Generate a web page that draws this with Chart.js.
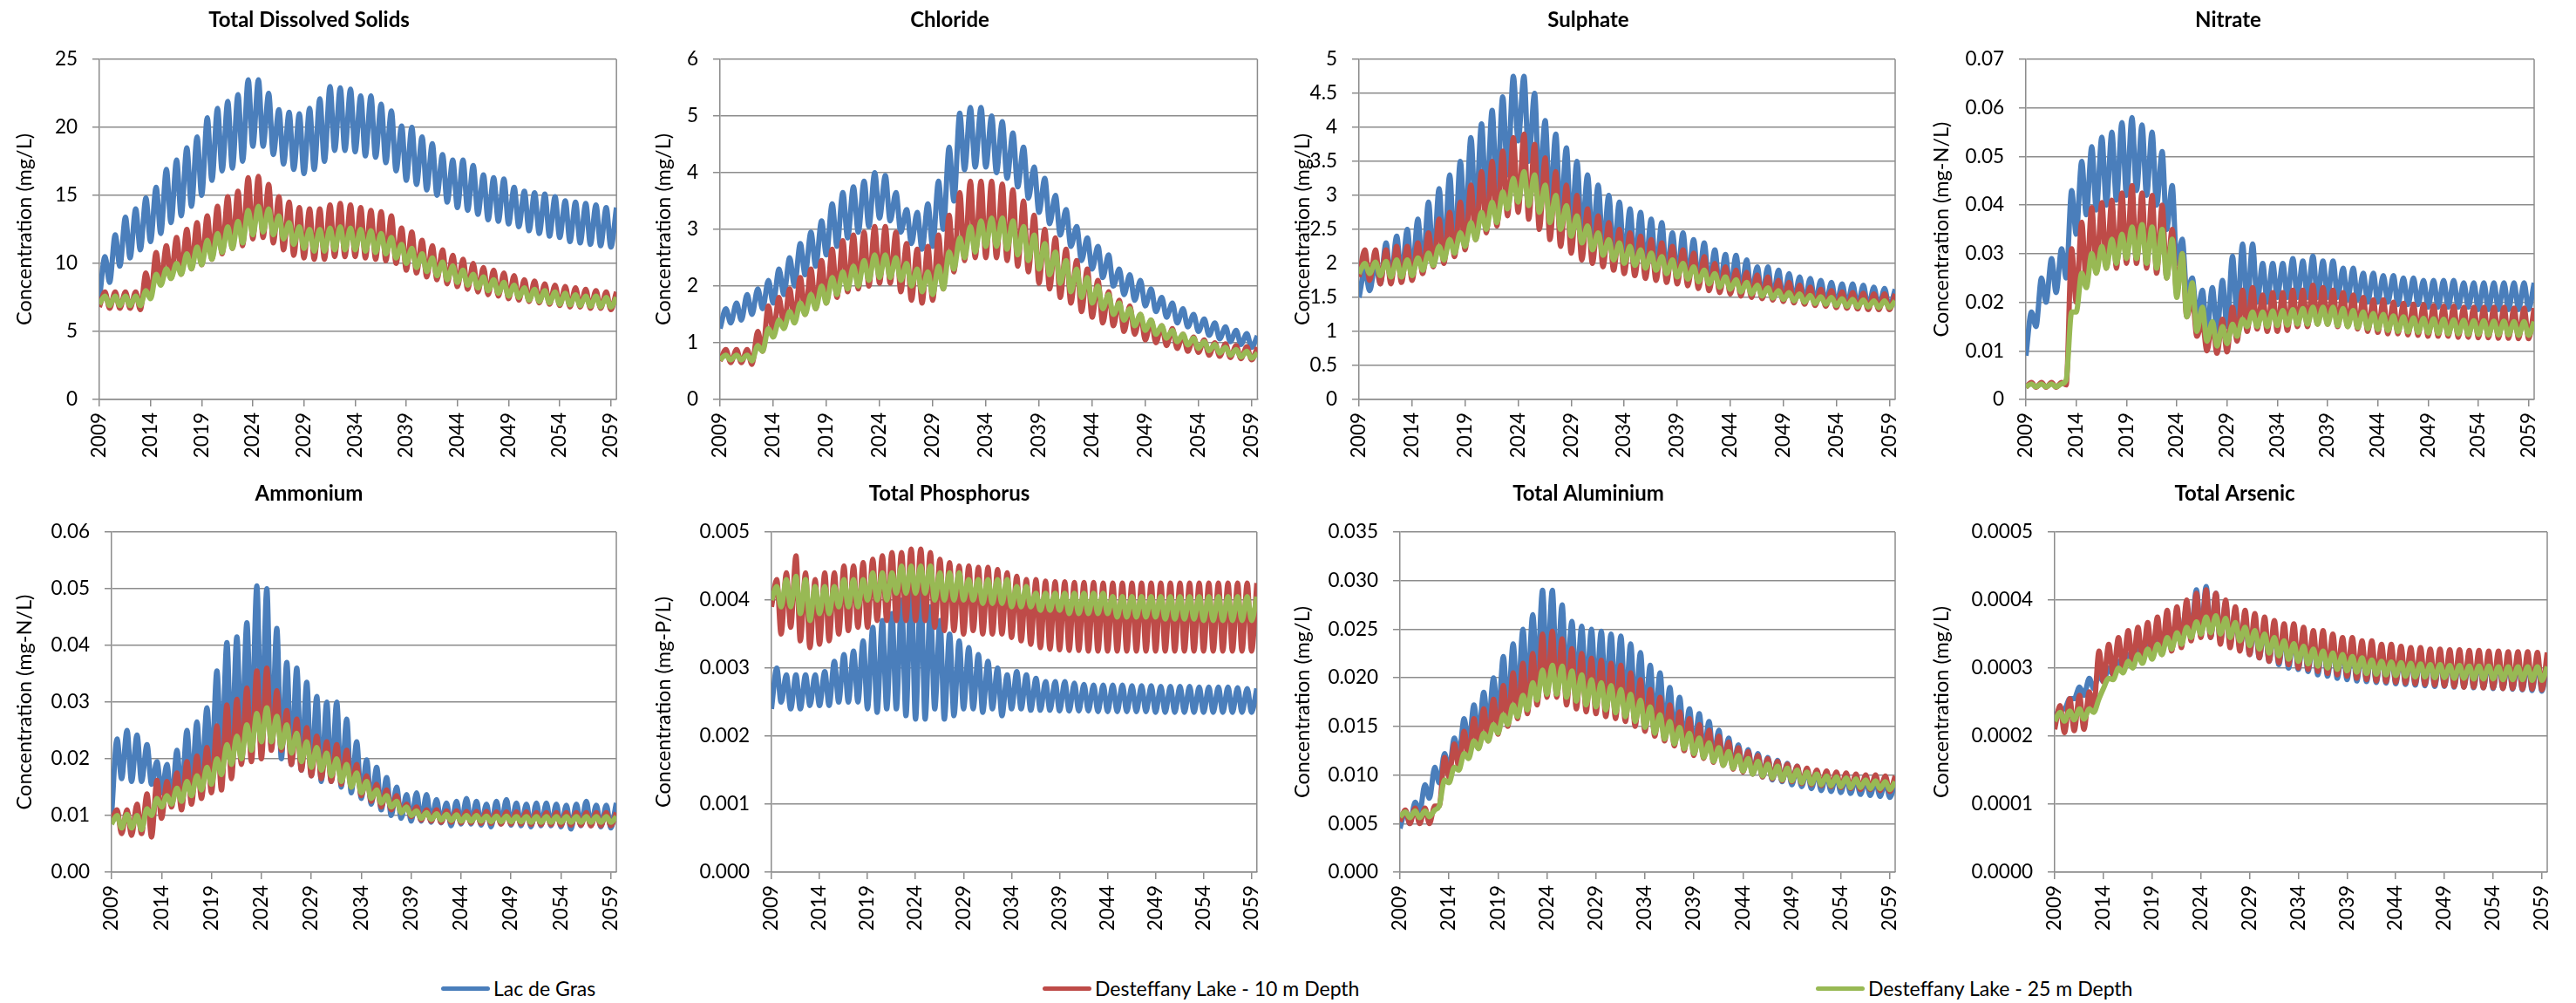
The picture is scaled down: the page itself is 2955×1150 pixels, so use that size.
<!DOCTYPE html>
<html>
<head>
<meta charset="utf-8">
<script src="https://cdn.jsdelivr.net/npm/chart.js@4.4.0/dist/chart.umd.min.js"></script>
<style>
  body { margin: 0; background: #fff; width: 2955px; height: 1150px; position: relative; overflow: hidden; font-family: Lato, sans-serif; }
  canvas { position: absolute; }
  .key { position: absolute; top: 1118px; height: 30px; display: flex; align-items: center; font-size: 23px; color: #000; white-space: nowrap; }
  .key span { display: inline-block; width: 56px; height: 5px; border-radius: 3px; margin-right: 4px; }
</style>
</head>
<body>

<div class="key" style="left:506px"><span style="background:#4A7EBB"></span>Lac de Gras</div>
<div class="key" style="left:1196px"><span style="background:#BE4B48"></span>Desteffany Lake - 10 m Depth</div>
<div class="key" style="left:2083px"><span style="background:#98B954"></span>Desteffany Lake - 25 m Depth</div>

<script>
// --- data: one trough (start of year) and one peak (mid-year) per year ---
const years = [2009,2010,2011,2012,2013,2014,2015,2016,2017,2018,2019,2020,2021,2022,2023,2024,2025,2026,2027,2028,2029,2030,2031,2032,2033,2034,2035,2036,2037,2038,2039,2040,2041,2042,2043,2044,2045,2046,2047,2048,2049,2050,2051,2052,2053,2054,2055,2056,2057,2058,2059];
const xTickYears = [2009, 2014, 2019, 2024, 2029, 2034, 2039, 2044, 2049, 2054, 2059];
const seriesNames = ["Lac de Gras", "Desteffany Lake - 10 m Depth", "Desteffany Lake - 25 m Depth"];

// Total Dissolved Solids
const tdsLacHi = [10.5,12.1,13.4,14.0,14.8,15.6,16.9,17.6,18.5,19.3,20.7,21.4,21.9,22.4,23.5,23.5,22.5,21.3,21.1,21.0,21.4,22.1,23.0,22.9,22.8,22.3,22.3,21.7,21.2,20.1,20.0,19.3,18.8,18.0,17.6,17.6,17.2,16.5,16.3,16.2,15.6,15.3,15.2,15.1,14.9,14.6,14.5,14.4,14.3,14.1,14.1];
const tdsLacLo = [7.3,8.6,9.8,10.4,11.0,11.6,12.2,13.0,13.5,14.2,15.0,16.1,16.8,17.0,17.5,18.6,18.6,18.0,17.3,16.9,16.6,16.9,17.5,18.3,18.3,18.2,17.9,17.8,17.4,16.8,16.1,15.8,15.4,15.0,14.5,14.1,13.9,13.6,13.2,13.1,12.9,12.7,12.4,12.2,12.0,11.9,11.6,11.5,11.4,11.3,11.2];
const tds10Hi = [7.9,7.9,7.9,7.9,9.3,10.8,11.3,11.9,12.5,13.0,13.5,14.2,14.9,15.3,16.3,16.4,15.8,14.9,14.5,14.1,14.0,14.0,14.3,14.4,14.3,14.1,13.9,13.8,13.5,12.6,12.3,11.7,11.3,11.0,10.6,10.3,10.0,9.7,9.5,9.3,9.1,8.8,8.7,8.5,8.4,8.3,8.2,8.1,8.0,7.9,7.9];
const tds10Lo = [6.8,6.7,6.7,6.7,6.6,7.5,8.5,8.9,9.2,9.6,9.9,10.3,10.7,11.1,11.3,11.8,11.9,11.5,11.0,10.6,10.4,10.3,10.3,10.5,10.5,10.5,10.4,10.3,10.2,10.0,9.5,9.3,9.0,8.8,8.5,8.3,8.1,7.9,7.7,7.6,7.4,7.3,7.2,7.1,7.0,6.9,6.8,6.8,6.7,6.7,6.6];
const tds25Hi = [7.6,7.6,7.6,7.6,8.0,9.2,9.6,10.0,10.7,11.2,11.7,12.2,12.7,13.1,13.9,14.2,14.0,13.5,13.0,12.7,12.5,12.5,12.6,12.7,12.6,12.5,12.4,12.2,11.9,11.4,11.1,10.7,10.4,10.1,9.8,9.5,9.2,9.0,8.8,8.6,8.4,8.2,8.1,8.0,7.9,7.8,7.7,7.6,7.6,7.5,7.5];
const tds25Lo = [7.0,6.9,6.9,6.9,6.9,7.4,8.4,8.9,9.2,9.6,9.9,10.3,10.8,11.1,11.5,12.1,12.3,12.1,11.8,11.4,11.1,10.9,10.9,11.0,11.0,11.0,10.9,10.8,10.7,10.4,10.0,9.7,9.4,9.1,8.8,8.6,8.4,8.2,8.0,7.8,7.6,7.5,7.3,7.2,7.1,7.0,6.95,6.9,6.85,6.8,6.8];

// Chloride
const clLacHi = [1.6,1.7,1.85,1.95,2.1,2.3,2.5,2.75,2.95,3.15,3.45,3.65,3.75,3.85,4.0,3.95,3.65,3.35,3.3,3.45,3.85,4.45,5.05,5.15,5.15,5.0,4.9,4.7,4.45,4.1,3.9,3.6,3.35,3.05,2.85,2.7,2.55,2.3,2.2,2.1,1.95,1.8,1.7,1.6,1.5,1.42,1.35,1.28,1.22,1.16,1.12];
const clLacLo = [1.25,1.35,1.4,1.5,1.6,1.7,1.85,2.0,2.2,2.35,2.55,2.7,2.85,2.95,3.05,3.2,3.15,2.95,2.75,2.65,2.7,3.0,3.5,4.05,4.1,4.1,4.0,3.9,3.75,3.55,3.3,3.1,2.9,2.7,2.45,2.3,2.15,2.0,1.85,1.75,1.65,1.55,1.45,1.35,1.28,1.2,1.13,1.07,1.02,0.97,0.92];
const cl10Hi = [0.88,0.88,0.88,1.2,1.65,1.8,1.95,2.15,2.3,2.45,2.65,2.8,2.9,2.95,3.05,3.05,2.95,2.75,2.65,2.7,2.9,3.25,3.65,3.85,3.85,3.85,3.8,3.7,3.5,3.25,3.0,2.85,2.65,2.45,2.3,2.1,1.9,1.75,1.65,1.5,1.4,1.3,1.25,1.15,1.1,1.05,1.0,0.98,0.95,0.93,0.92];
const cl10Lo = [0.68,0.65,0.65,0.62,0.85,1.2,1.3,1.4,1.5,1.6,1.7,1.8,1.9,1.95,2.0,2.05,2.05,1.9,1.75,1.7,1.75,1.95,2.25,2.45,2.5,2.5,2.5,2.45,2.35,2.25,2.05,1.95,1.8,1.7,1.55,1.45,1.35,1.3,1.2,1.15,1.05,1.0,0.95,0.9,0.85,0.83,0.78,0.76,0.74,0.72,0.7];
const cl25Hi = [0.78,0.78,0.78,0.95,1.25,1.4,1.55,1.7,1.85,2.0,2.15,2.25,2.35,2.45,2.55,2.55,2.5,2.4,2.3,2.25,2.35,2.6,2.85,3.05,3.15,3.2,3.2,3.15,3.05,2.9,2.75,2.6,2.45,2.3,2.15,2.0,1.85,1.7,1.6,1.5,1.4,1.3,1.22,1.15,1.08,1.02,0.97,0.92,0.88,0.85,0.82];
const cl25Lo = [0.7,0.7,0.7,0.68,0.85,1.1,1.25,1.35,1.5,1.6,1.7,1.85,1.95,2.0,2.1,2.15,2.15,2.1,2.0,1.9,1.85,1.95,2.3,2.5,2.6,2.7,2.7,2.65,2.55,2.45,2.3,2.2,2.05,1.9,1.8,1.7,1.6,1.5,1.4,1.3,1.22,1.15,1.08,1.02,0.96,0.9,0.86,0.82,0.78,0.75,0.73];

// Sulphate
const so4LacHi = [1.9,2.0,2.3,2.4,2.5,2.65,2.9,3.1,3.3,3.5,3.85,4.05,4.25,4.45,4.75,4.75,4.5,4.1,3.9,3.7,3.5,3.3,3.15,3.0,2.9,2.8,2.75,2.65,2.6,2.45,2.45,2.35,2.3,2.2,2.13,2.12,2.05,1.95,1.95,1.9,1.85,1.8,1.78,1.75,1.72,1.7,1.7,1.68,1.65,1.63,1.62];
const so4LacLo = [1.5,1.6,1.7,1.75,1.8,1.85,1.9,2.0,2.1,2.15,2.5,2.7,2.85,3.0,3.3,3.8,3.5,3.1,2.85,2.65,2.5,2.4,2.3,2.2,2.1,2.03,1.97,1.92,1.87,1.82,1.78,1.75,1.7,1.67,1.63,1.6,1.57,1.55,1.5,1.48,1.46,1.45,1.43,1.42,1.4,1.38,1.37,1.36,1.35,1.35,1.35];
const so410Hi = [2.2,2.2,2.2,2.25,2.25,2.3,2.45,2.65,2.75,2.9,3.15,3.35,3.5,3.65,3.85,3.9,3.75,3.55,3.35,3.15,3.0,2.8,2.7,2.6,2.5,2.45,2.4,2.35,2.3,2.25,2.2,2.15,2.1,2.0,1.95,1.9,1.87,1.83,1.8,1.75,1.72,1.68,1.65,1.62,1.6,1.58,1.57,1.56,1.55,1.55,1.55];
const so410Lo = [1.8,1.75,1.7,1.7,1.72,1.75,1.85,1.95,2.0,2.1,2.2,2.35,2.45,2.55,2.7,2.75,2.65,2.5,2.35,2.25,2.15,2.05,2.0,1.95,1.9,1.85,1.82,1.78,1.75,1.72,1.7,1.67,1.63,1.6,1.57,1.55,1.52,1.5,1.48,1.46,1.44,1.42,1.4,1.38,1.37,1.35,1.34,1.33,1.32,1.32,1.32];
const so425Hi = [2.0,2.02,2.03,2.05,2.05,2.08,2.15,2.25,2.35,2.45,2.6,2.75,2.9,3.05,3.25,3.35,3.3,3.15,3.0,2.85,2.7,2.55,2.45,2.35,2.3,2.25,2.2,2.15,2.1,2.05,2.0,1.95,1.9,1.85,1.8,1.76,1.72,1.68,1.64,1.6,1.57,1.55,1.53,1.51,1.5,1.48,1.47,1.46,1.45,1.45,1.45];
const so425Lo = [1.85,1.85,1.82,1.8,1.8,1.82,1.9,1.97,2.05,2.15,2.25,2.35,2.5,2.6,2.8,2.9,2.85,2.75,2.6,2.5,2.4,2.3,2.2,2.12,2.05,2.0,1.97,1.93,1.9,1.85,1.8,1.77,1.73,1.7,1.65,1.62,1.58,1.55,1.52,1.49,1.47,1.45,1.43,1.41,1.4,1.38,1.37,1.36,1.36,1.35,1.35];

// Nitrate
const no3LacHi = [0.018,0.025,0.029,0.031,0.043,0.049,0.052,0.054,0.055,0.057,0.058,0.0565,0.055,0.051,0.044,0.033,0.025,0.0225,0.023,0.0245,0.0295,0.032,0.032,0.028,0.028,0.028,0.029,0.0285,0.0295,0.0285,0.0285,0.027,0.027,0.026,0.026,0.0255,0.0255,0.025,0.025,0.0245,0.0245,0.0245,0.0245,0.024,0.024,0.024,0.024,0.024,0.024,0.024,0.024];
const no3LacLo = [0.009,0.015,0.020,0.022,0.025,0.034,0.038,0.039,0.040,0.041,0.042,0.043,0.042,0.040,0.035,0.028,0.022,0.017,0.014,0.014,0.015,0.017,0.019,0.020,0.020,0.021,0.021,0.021,0.021,0.021,0.021,0.021,0.0205,0.0205,0.020,0.020,0.020,0.0195,0.0195,0.0195,0.019,0.019,0.019,0.019,0.019,0.0185,0.0185,0.0185,0.0185,0.0185,0.0185];
const no310Hi = [0.0035,0.0035,0.0035,0.0035,0.031,0.0365,0.0395,0.0405,0.041,0.0425,0.044,0.0425,0.042,0.040,0.035,0.030,0.021,0.016,0.0158,0.0165,0.019,0.0225,0.023,0.0215,0.022,0.022,0.0225,0.0225,0.0235,0.023,0.0225,0.022,0.0215,0.021,0.0205,0.0205,0.020,0.0198,0.0196,0.0195,0.0193,0.0192,0.0192,0.019,0.019,0.019,0.019,0.019,0.0188,0.0188,0.0188];
const no310Lo = [0.0025,0.0025,0.0025,0.0025,0.003,0.020,0.024,0.026,0.027,0.027,0.028,0.028,0.027,0.026,0.025,0.022,0.017,0.013,0.010,0.0095,0.0098,0.012,0.014,0.0145,0.014,0.014,0.0142,0.015,0.015,0.0155,0.0155,0.015,0.015,0.0145,0.014,0.0138,0.0135,0.0135,0.0133,0.0132,0.013,0.013,0.013,0.0128,0.0128,0.0127,0.0127,0.0126,0.0126,0.0125,0.0125];
const no325Hi = [0.0032,0.0032,0.0032,0.0032,0.018,0.026,0.030,0.0315,0.033,0.034,0.0355,0.036,0.0355,0.035,0.033,0.030,0.024,0.019,0.016,0.015,0.0155,0.0165,0.018,0.018,0.0182,0.0183,0.0185,0.0187,0.019,0.019,0.019,0.0187,0.0183,0.018,0.0177,0.0175,0.0172,0.017,0.0168,0.0167,0.0166,0.0165,0.0164,0.0163,0.0162,0.0162,0.0161,0.0161,0.016,0.016,0.016];
const no325Lo = [0.0026,0.0026,0.0026,0.0026,0.004,0.018,0.023,0.026,0.027,0.028,0.029,0.029,0.028,0.027,0.025,0.021,0.017,0.014,0.012,0.011,0.0115,0.013,0.015,0.015,0.015,0.0152,0.0153,0.0155,0.0155,0.0155,0.0155,0.0152,0.015,0.0148,0.0146,0.0144,0.0142,0.014,0.0139,0.0138,0.0137,0.0136,0.0135,0.0135,0.0134,0.0134,0.0133,0.0133,0.0133,0.0132,0.0132];

// Ammonium
const nh4LacHi = [0.0235,0.025,0.0242,0.0225,0.0195,0.019,0.0215,0.025,0.0265,0.029,0.0355,0.0405,0.0415,0.044,0.0505,0.050,0.043,0.037,0.036,0.0335,0.031,0.030,0.030,0.027,0.023,0.0198,0.0185,0.0167,0.015,0.0137,0.014,0.0137,0.0128,0.0122,0.0125,0.013,0.0125,0.012,0.0125,0.0128,0.0122,0.012,0.0122,0.0122,0.012,0.0118,0.012,0.0125,0.0118,0.0118,0.0122];
const nh4LacLo = [0.010,0.0165,0.016,0.016,0.0155,0.014,0.012,0.0135,0.015,0.016,0.018,0.020,0.021,0.022,0.024,0.024,0.022,0.020,0.019,0.018,0.017,0.016,0.016,0.015,0.014,0.013,0.012,0.011,0.010,0.0095,0.009,0.009,0.0088,0.0087,0.0082,0.0085,0.0085,0.0083,0.008,0.0085,0.0083,0.0082,0.008,0.0082,0.0082,0.008,0.0076,0.0082,0.0082,0.008,0.0078];
const nh410Hi = [0.011,0.011,0.012,0.0138,0.0162,0.016,0.0175,0.0195,0.0205,0.022,0.0258,0.0295,0.0305,0.0325,0.0355,0.036,0.032,0.0285,0.027,0.0255,0.024,0.023,0.0225,0.0215,0.019,0.017,0.0155,0.0145,0.0135,0.012,0.0115,0.011,0.011,0.0108,0.0108,0.0107,0.0107,0.0107,0.0106,0.0106,0.0106,0.0106,0.0105,0.0105,0.0105,0.0105,0.0105,0.0105,0.0105,0.0105,0.0105];
const nh410Lo = [0.009,0.0068,0.0065,0.0068,0.0062,0.0095,0.0115,0.011,0.012,0.013,0.014,0.0145,0.0165,0.019,0.0195,0.020,0.0215,0.0215,0.019,0.018,0.017,0.0165,0.016,0.0155,0.015,0.0135,0.0125,0.0115,0.011,0.0105,0.0098,0.0092,0.009,0.0088,0.0088,0.0087,0.0087,0.0086,0.0086,0.0085,0.0085,0.0085,0.0084,0.0084,0.0084,0.0083,0.0083,0.0083,0.0082,0.0082,0.0082];
const nh425Hi = [0.0100,0.0102,0.0100,0.0112,0.0130,0.0135,0.0148,0.0160,0.0170,0.0185,0.020,0.0225,0.024,0.026,0.028,0.029,0.0275,0.026,0.0245,0.023,0.022,0.021,0.020,0.019,0.0175,0.016,0.0145,0.0135,0.0125,0.0115,0.0108,0.0105,0.0103,0.0102,0.0101,0.0100,0.0100,0.0099,0.0099,0.0099,0.0098,0.0098,0.0098,0.0098,0.0098,0.0098,0.0098,0.0098,0.0098,0.0098,0.0098];
const nh425Lo = [0.0085,0.0078,0.0078,0.0075,0.0100,0.0115,0.012,0.0125,0.0135,0.0145,0.0155,0.0172,0.019,0.020,0.0215,0.023,0.023,0.022,0.021,0.0195,0.0185,0.018,0.017,0.016,0.015,0.014,0.013,0.0122,0.0115,0.0105,0.010,0.0095,0.0093,0.0092,0.0091,0.009,0.009,0.009,0.0089,0.0089,0.0089,0.0089,0.0088,0.0088,0.0088,0.0088,0.0088,0.0088,0.0088,0.0088,0.0088];

// Total Phosphorus
const tpLacHi = [0.0030,0.0029,0.0029,0.0029,0.0029,0.00295,0.0031,0.0032,0.00325,0.0034,0.0036,0.0037,0.0038,0.0040,0.0042,0.0042,0.0039,0.0037,0.0035,0.0034,0.0033,0.0032,0.0031,0.0030,0.0029,0.00295,0.0029,0.00285,0.0028,0.0028,0.0028,0.00278,0.00276,0.00275,0.00275,0.00275,0.00275,0.00274,0.00274,0.00274,0.00273,0.00273,0.00273,0.00273,0.00272,0.00272,0.00272,0.00272,0.00271,0.0027,0.0027];
const tpLacLo = [0.0024,0.0025,0.0024,0.0024,0.00245,0.00245,0.00245,0.0025,0.0025,0.0025,0.0024,0.00235,0.0024,0.0024,0.0023,0.00225,0.00225,0.0024,0.00225,0.0023,0.0024,0.0024,0.00235,0.0024,0.0023,0.0024,0.0024,0.00238,0.00238,0.00238,0.00237,0.00237,0.00237,0.00237,0.00236,0.00236,0.00236,0.00236,0.00236,0.00236,0.00235,0.00235,0.00235,0.00235,0.00235,0.00235,0.00235,0.00235,0.00235,0.00235,0.00235];
const tp10Hi = [0.0043,0.0044,0.00465,0.0044,0.0043,0.0044,0.0044,0.0045,0.0045,0.00455,0.0046,0.00465,0.0047,0.0047,0.00475,0.00475,0.0047,0.0046,0.00455,0.0045,0.0045,0.00448,0.00448,0.00445,0.0044,0.00435,0.0043,0.0043,0.00428,0.00427,0.00427,0.00426,0.00426,0.00426,0.00425,0.00425,0.00425,0.00425,0.00425,0.00425,0.00425,0.00425,0.00425,0.00425,0.00425,0.00425,0.00425,0.00425,0.00425,0.00425,0.00425];
const tp10Lo = [0.0039,0.0035,0.0036,0.0034,0.0033,0.00335,0.0034,0.0035,0.00355,0.0036,0.0036,0.0037,0.0037,0.0037,0.0037,0.0037,0.0037,0.0036,0.00355,0.00355,0.0035,0.00355,0.0035,0.0035,0.0035,0.00345,0.0034,0.00335,0.0033,0.00328,0.00327,0.00326,0.00326,0.00325,0.00325,0.00325,0.00325,0.00325,0.00325,0.00325,0.00325,0.00325,0.00325,0.00325,0.00325,0.00325,0.00325,0.00325,0.00325,0.00325,0.00325];
const tp25Hi = [0.0042,0.0043,0.00435,0.0043,0.0042,0.0042,0.0042,0.0043,0.0043,0.0043,0.0044,0.0044,0.0044,0.0045,0.0045,0.0045,0.0045,0.0044,0.0044,0.0044,0.0043,0.0043,0.0043,0.0043,0.0043,0.0042,0.0042,0.0041,0.0041,0.0041,0.0041,0.0041,0.0041,0.0041,0.0041,0.00405,0.00405,0.00405,0.00405,0.00405,0.00405,0.00405,0.00405,0.00405,0.00405,0.00405,0.00405,0.00405,0.00405,0.00405,0.00405];
const tp25Lo = [0.0040,0.0039,0.0039,0.0038,0.0037,0.0038,0.0038,0.0039,0.0039,0.0039,0.0040,0.0040,0.0040,0.0041,0.0041,0.0041,0.0041,0.0040,0.0040,0.0040,0.0040,0.0040,0.00395,0.00395,0.00395,0.0039,0.0039,0.0039,0.00385,0.00385,0.00385,0.0038,0.0038,0.0038,0.0038,0.0038,0.00375,0.00375,0.00375,0.00375,0.00375,0.00372,0.00372,0.00372,0.00372,0.0037,0.0037,0.0037,0.0037,0.0037,0.0037];

// Total Aluminium
const alLacHi = [0.0063,0.0072,0.009,0.0108,0.0122,0.0138,0.0158,0.0172,0.0185,0.020,0.0222,0.0235,0.025,0.0265,0.029,0.029,0.0275,0.0258,0.0253,0.025,0.0248,0.0245,0.0243,0.0235,0.0226,0.0213,0.0205,0.019,0.018,0.0168,0.0163,0.0155,0.0146,0.0138,0.0131,0.0126,0.0122,0.0118,0.0115,0.0112,0.0109,0.0106,0.0104,0.0102,0.0100,0.0098,0.0097,0.0095,0.0094,0.0093,0.0092];
const alLacLo = [0.0045,0.005,0.0062,0.0076,0.0092,0.0105,0.012,0.013,0.014,0.015,0.0158,0.0165,0.0175,0.0185,0.020,0.0205,0.020,0.0195,0.019,0.0185,0.0183,0.018,0.0175,0.017,0.0165,0.016,0.0153,0.0147,0.014,0.0133,0.0127,0.0122,0.0117,0.0112,0.0108,0.0104,0.0101,0.0098,0.0095,0.0093,0.009,0.0088,0.0086,0.0084,0.0083,0.0082,0.0081,0.008,0.0079,0.0078,0.0077];
const al10Hi = [0.0064,0.0066,0.0066,0.0068,0.0118,0.0132,0.0145,0.0158,0.0168,0.0178,0.0192,0.0205,0.0215,0.0225,0.0245,0.0248,0.024,0.023,0.0225,0.022,0.0218,0.0215,0.0213,0.0205,0.0198,0.0188,0.018,0.0172,0.0165,0.0158,0.0152,0.0146,0.014,0.0134,0.0128,0.0124,0.012,0.0117,0.0114,0.0111,0.0109,0.0107,0.0105,0.0104,0.0103,0.0102,0.0101,0.0100,0.0100,0.0099,0.0099];
const al10Lo = [0.0052,0.005,0.005,0.005,0.0068,0.0098,0.0108,0.0118,0.0128,0.0135,0.0142,0.015,0.0158,0.0163,0.0172,0.018,0.018,0.0172,0.0168,0.0165,0.0163,0.016,0.0158,0.0155,0.015,0.0145,0.014,0.0135,0.013,0.0125,0.012,0.0117,0.0113,0.011,0.0106,0.0103,0.0101,0.0098,0.0096,0.0094,0.0093,0.0091,0.009,0.0089,0.0088,0.0087,0.0086,0.0085,0.0085,0.0084,0.0083];
const al25Hi = [0.0062,0.0063,0.0063,0.0064,0.0095,0.0108,0.0122,0.0135,0.0143,0.0152,0.0162,0.0172,0.0182,0.0195,0.0208,0.0213,0.0212,0.0207,0.0203,0.0198,0.0195,0.0192,0.0188,0.0183,0.0177,0.017,0.0162,0.0155,0.0149,0.0143,0.0138,0.0133,0.0128,0.0124,0.012,0.0117,0.0114,0.0111,0.0109,0.0107,0.0105,0.0103,0.0101,0.0099,0.0098,0.0097,0.0096,0.0095,0.0094,0.0093,0.0093];
const al25Lo = [0.0057,0.0056,0.0056,0.0057,0.0068,0.0092,0.0105,0.0117,0.0127,0.0135,0.0143,0.0152,0.016,0.0167,0.0177,0.0183,0.0183,0.018,0.0176,0.0172,0.017,0.0167,0.0164,0.016,0.0155,0.0149,0.0143,0.0137,0.0132,0.0127,0.0122,0.0118,0.0114,0.011,0.0107,0.0104,0.0101,0.0099,0.0097,0.0095,0.0094,0.0092,0.0091,0.009,0.0089,0.0088,0.0087,0.0087,0.0086,0.0086,0.0085];

// Total Arsenic
const asLacHi = [0.00024,0.000255,0.000272,0.000285,0.00029,0.0003,0.00031,0.00032,0.00033,0.00034,0.00035,0.00036,0.00037,0.00039,0.000415,0.00042,0.00041,0.000395,0.000385,0.000375,0.00037,0.000365,0.00036,0.000355,0.000355,0.00035,0.000345,0.000345,0.00034,0.000335,0.000335,0.00033,0.00033,0.000328,0.000326,0.000325,0.000323,0.000322,0.00032,0.00032,0.000318,0.000318,0.000317,0.000316,0.000315,0.000315,0.000314,0.000314,0.000313,0.000313,0.000312];
const asLacLo = [0.000225,0.00024,0.000255,0.00026,0.00027,0.00028,0.00029,0.0003,0.00031,0.00032,0.000325,0.00033,0.00034,0.00035,0.000355,0.00035,0.000345,0.00034,0.000335,0.00033,0.00032,0.000315,0.00031,0.000305,0.0003,0.000298,0.000295,0.00029,0.000288,0.000285,0.000283,0.000281,0.00028,0.000279,0.000278,0.000277,0.000276,0.000275,0.000274,0.000273,0.000273,0.000272,0.000272,0.000271,0.000271,0.00027,0.00027,0.000269,0.000268,0.000267,0.000266];
const as10Hi = [0.000245,0.000255,0.00026,0.000265,0.000325,0.000335,0.000345,0.000355,0.00036,0.000367,0.000375,0.000385,0.00039,0.0004,0.00041,0.000415,0.00041,0.0004,0.00039,0.000385,0.00038,0.000375,0.00037,0.000365,0.000365,0.00036,0.000355,0.000355,0.00035,0.000345,0.000345,0.00034,0.00034,0.000335,0.000335,0.000332,0.00033,0.00033,0.000328,0.000328,0.000327,0.000327,0.000326,0.000326,0.000325,0.000325,0.000324,0.000324,0.000324,0.000323,0.000323];
const as10Lo = [0.00021,0.000205,0.000208,0.00021,0.00024,0.00028,0.00029,0.0003,0.000305,0.00031,0.000315,0.00032,0.000325,0.00033,0.00034,0.000345,0.000345,0.000335,0.00033,0.000325,0.00032,0.000315,0.00031,0.000308,0.000305,0.0003,0.000298,0.000295,0.000292,0.00029,0.000288,0.000285,0.000283,0.000281,0.00028,0.000279,0.000278,0.000277,0.000276,0.000275,0.000274,0.000273,0.000272,0.000272,0.000271,0.000271,0.00027,0.00027,0.000269,0.000269,0.000268];
const as25Hi = [0.000235,0.000237,0.00024,0.00024,0.000255,0.000285,0.0003,0.00031,0.00032,0.000328,0.000335,0.000345,0.000352,0.00036,0.000368,0.000375,0.000377,0.000373,0.000367,0.00036,0.000355,0.00035,0.000345,0.00034,0.000336,0.000332,0.000328,0.000325,0.000322,0.00032,0.000317,0.000315,0.000312,0.00031,0.000309,0.000308,0.000307,0.000306,0.000305,0.000305,0.000304,0.000304,0.000303,0.000303,0.000303,0.000302,0.000302,0.000302,0.000302,0.000302,0.000302];
const as25Lo = [0.000222,0.000222,0.000224,0.000225,0.000235,0.00027,0.000283,0.000293,0.0003,0.000307,0.000313,0.00032,0.000328,0.000335,0.000345,0.00035,0.000352,0.00035,0.000345,0.00034,0.000333,0.000328,0.000322,0.000318,0.000313,0.00031,0.000306,0.000303,0.0003,0.000298,0.000296,0.000294,0.000292,0.000291,0.00029,0.000289,0.000288,0.000287,0.000287,0.000286,0.000286,0.000285,0.000285,0.000284,0.000284,0.000284,0.000283,0.000283,0.000283,0.000282,0.000282];

// --- styling ---
const colors = ["#4A7EBB", "#BE4B48", "#98B954"];
const gridColor = "#8c8c8c";
const peakOffset = 0.55;   // seasonal peak sits a little past mid-year

Chart.defaults.font.family = "Lato";
Chart.defaults.color = "#000";

// panel layout: canvas box, y-axis width, right padding, y-title offset
const panels = [
  { title: "Total Dissolved Solids", unit: "Concentration (mg/L)", max: 25, count: 6, dec: 0,
    data: [[tdsLacLo, tdsLacHi], [tds10Lo, tds10Hi], [tds25Lo, tds25Hi]],
    left: 0, top: 0, w: 735, yw: 114, right: 26, ytPad: 14 },
  { title: "Chloride", unit: "Concentration (mg/L)", max: 6, count: 7, dec: 0,
    data: [[clLacLo, clLacHi], [cl10Lo, cl10Hi], [cl25Lo, cl25Hi]],
    left: 735, top: 0, w: 735, yw: 91, right: 26, ytPad: 12 },
  { title: "Sulphate", unit: "Concentration (mg/L)", max: 5, count: 11, dec: null,
    data: [[so4LacLo, so4LacHi], [so410Lo, so410Hi], [so425Lo, so425Hi]],
    left: 1470, top: 0, w: 735, yw: 89, right: 31, ytPad: 10 },
  { title: "Nitrate", unit: "Concentration (mg-N/L)", max: 0.07, count: 8, dec: null,
    data: [[no3LacLo, no3LacHi], [no310Lo, no310Hi], [no325Lo, no325Hi]],
    left: 2205, top: 0, w: 750, yw: 119, right: 48, ytPad: 8 },
  { title: "Ammonium", unit: "Concentration (mg-N/L)", max: 0.06, count: 7, dec: 2,
    data: [[nh4LacLo, nh4LacHi], [nh410Lo, nh410Hi], [nh425Lo, nh425Hi]],
    left: 0, top: 545, w: 735, yw: 128, right: 26, ytPad: 14 },
  { title: "Total Phosphorus", unit: "Concentration (mg-P/L)", max: 0.005, count: 6, dec: 3,
    data: [[tpLacLo, tpLacHi], [tp10Lo, tp10Hi], [tp25Lo, tp25Hi]],
    left: 735, top: 545, w: 735, yw: 150, right: 27, ytPad: 12 },
  { title: "Total Aluminium", unit: "Concentration (mg/L)", max: 0.035, count: 8, dec: 3,
    data: [[alLacLo, alLacHi], [al10Lo, al10Hi], [al25Lo, al25Hi]],
    left: 1470, top: 545, w: 735, yw: 136, right: 31, ytPad: 10 },
  { title: "Total Arsenic", unit: "Concentration (mg/L)", max: 0.0005, count: 6, dec: 4,
    data: [[asLacLo, asLacHi], [as10Lo, as10Hi], [as25Lo, as25Hi]],
    left: 2205, top: 545, w: 750, yw: 152, right: 33, ytPad: 8 }
];

function wave(lo, hi) {
  const pts = [];
  years.forEach(function (yr, i) {
    pts.push({ x: yr, y: lo[i] });
    pts.push({ x: yr + peakOffset, y: hi[i] });
  });
  return pts;
}

// right-hand edge of the plot area, like the Excel frame
const frame = {
  id: "frame",
  beforeDatasetsDraw(chart) {
    const a = chart.chartArea, c = chart.ctx;
    c.save();
    c.strokeStyle = gridColor;
    c.lineWidth = 1.5;
    c.beginPath();
    c.moveTo(a.right, a.top);
    c.lineTo(a.right, a.bottom);
    c.stroke();
    c.restore();
  }
};

panels.forEach(function (p) {
  const cv = document.createElement("canvas");
  cv.width = p.w;
  cv.height = 545;
  cv.style.left = p.left + "px";
  cv.style.top = p.top + "px";
  document.body.appendChild(cv);

  const row2 = p.top > 0;

  new Chart(cv, {
    type: "line",
    data: {
      datasets: p.data.map(function (s, k) {
        return {
          label: seriesNames[k],
          data: wave(s[0], s[1]),
          borderColor: colors[k],
          backgroundColor: colors[k],
          borderWidth: 6,
          pointRadius: 0,
          cubicInterpolationMode: "monotone",
          borderJoinStyle: "round",
          order: 3 - k
        };
      })
    },
    options: {
      responsive: false,
      animation: false,
      layout: { padding: { left: 0, right: p.right, top: 0, bottom: 0 } },
      plugins: {
        legend: { display: false },
        tooltip: { enabled: false },
        title: {
          display: true,
          text: p.title,
          font: { size: 24, weight: "bold", lineHeight: 1.2 },
          color: "#000",
          padding: row2 ? { top: 6.6, bottom: 29.6 } : { top: 8.6, bottom: 30.6 }
        }
      },
      scales: {
        x: {
          type: "linear",
          min: 2009,
          max: 2059.55,
          afterBuildTicks: function (s) {
            s.ticks = xTickYears.map(function (v) { return { value: v }; });
          },
          afterFit: function (s) { s.height = row2 ? 90 : 87; },
          ticks: {
            autoSkip: false,
            minRotation: 90,
            maxRotation: 90,
            padding: 7,
            font: { size: 22.5 },
            callback: function (v) { return String(v); }
          },
          grid: { drawOnChartArea: false, drawTicks: true, tickLength: 8, color: gridColor, lineWidth: 1.5 },
          border: { color: gridColor, width: 1.5 }
        },
        y: {
          min: 0,
          max: p.max,
          afterFit: function (s) { s.width = p.yw; },
          ticks: {
            count: p.count,
            padding: 17,
            font: { size: 22.5 },
            callback: function (v) {
              return p.dec === null ? String(+v.toFixed(6)) : v.toFixed(p.dec);
            }
          },
          grid: { color: gridColor, lineWidth: 1.5, tickLength: 8 },
          border: { color: gridColor, width: 1.5 },
          title: {
            display: true,
            text: p.unit,
            font: { size: 23.5 },
            color: "#000",
            padding: { top: p.ytPad, bottom: 0 }
          }
        }
      }
    },
    plugins: [frame]
  });
});
</script>
</body>
</html>
